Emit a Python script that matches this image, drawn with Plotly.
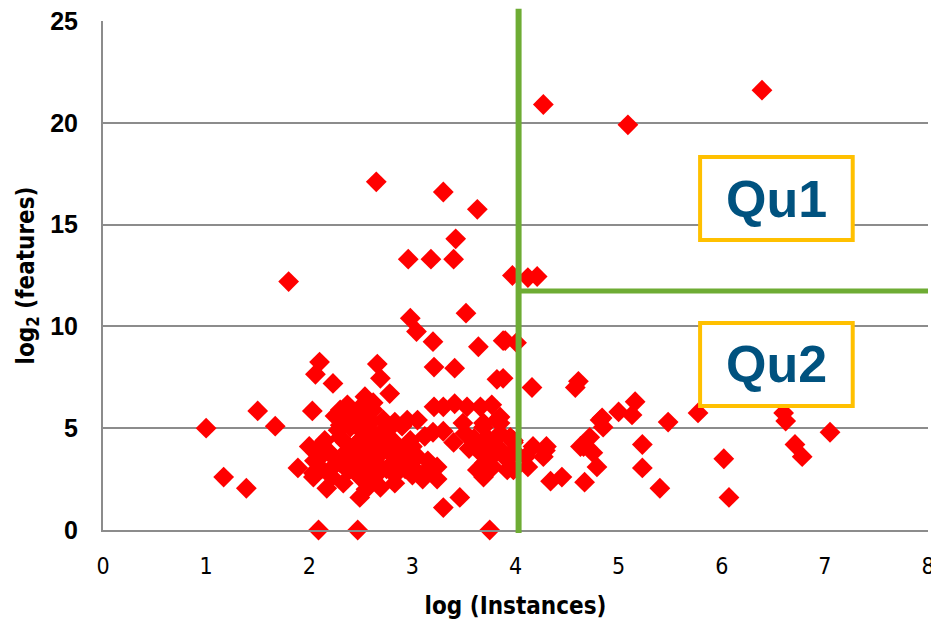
import plotly.graph_objects as go

# log(Instances) and log2(features)
x_vals = [
    1.00, 1.17, 1.39, 1.50, 1.67, 1.80, 2.03, 2.09, 2.10, 2.06, 2.23, 2.47, 3.75,
    2.65, 3.30, 3.63, 3.42, 2.96, 3.18, 3.40, 3.97, 4.12, 4.21, 2.98, 3.04, 3.52,
    3.20, 3.64, 3.90, 4.01, 4.27, 5.09, 6.39,
    2.66, 2.69, 2.78, 2.54, 2.37, 3.21, 3.41, 3.82, 4.16, 3.21, 3.30, 3.41, 3.53,
    3.66, 3.77, 2.62, 2.49, 2.30, 4.58, 4.61,
    2.40, 2.49, 2.62, 2.56, 2.72, 2.83, 2.95, 3.05, 2.30, 2.40, 2.30, 2.52, 2.62,
    2.49, 2.69, 2.78, 2.81, 2.98, 3.00, 2.00, 2.10, 2.43, 2.56, 2.37, 2.72, 2.95,
    2.59, 2.37, 2.91, 2.85, 1.89, 2.04, 2.23, 2.46, 2.69, 3.00, 3.14, 3.24, 2.04,
    2.49, 2.59, 2.62, 3.00, 3.24, 2.17, 2.83, 2.69, 2.49, 3.30, 3.46,
    2.05, 2.12, 2.15, 2.20, 2.22, 2.28, 2.30, 2.33, 2.35, 2.38, 2.42, 2.45, 2.50,
    2.52, 2.55, 2.58, 2.60, 2.65, 2.67, 2.70, 2.75, 2.78, 2.80, 2.83, 2.88, 2.90,
    2.93, 3.05, 3.10, 3.12, 3.15, 3.20, 2.13, 2.25, 2.65, 2.45,
    3.30, 3.40, 3.49, 3.51, 3.69, 3.69, 3.82, 3.85, 3.72, 3.85, 3.82, 3.69, 3.98,
    3.66, 3.98, 3.63, 3.69, 3.78, 3.92, 3.92, 3.98, 3.98, 3.55, 3.60, 3.75, 3.70,
    3.80, 3.87, 3.88, 3.88, 3.85, 3.95,
    4.12, 4.17, 4.30, 4.27, 4.34, 4.45, 4.67, 4.66, 4.72, 4.75, 4.79, 4.82, 4.85,
    5.00, 5.16, 5.13, 5.23, 5.23, 5.40, 5.48, 5.77, 6.60, 6.62, 6.71, 6.78, 7.05,
    6.02, 6.07, 4.10, 4.84, 4.29, 4.63,
    2.25, 2.35, 2.45, 2.55,
]
y_vals = [
    5.00, 2.60, 2.05, 5.85, 5.10, 12.20, 5.85, 0.00, 8.25, 7.65, 7.20, 0.00, 0.00,
    17.10, 16.60, 15.75, 14.30, 13.30, 13.30, 13.30, 12.50, 12.40, 12.45, 10.40, 9.75, 10.65,
    9.25, 9.00, 9.30, 9.20, 20.90, 19.90, 21.60,
    8.15, 7.45, 6.70, 6.55, 6.15, 8.00, 7.95, 7.40, 7.00, 6.05, 6.05, 6.20, 6.05,
    6.05, 6.15, 6.25, 5.90, 5.90, 7.00, 7.30,
    5.55, 6.00, 5.90, 5.55, 5.40, 5.30, 5.40, 5.40, 5.15, 5.05, 4.55, 4.55, 4.75,
    4.40, 4.25, 4.10, 4.40, 4.40, 4.10, 4.10, 4.10, 4.10, 3.90, 3.90, 3.90, 3.80,
    3.50, 3.45, 3.45, 3.30, 3.05, 2.80, 3.10, 3.10, 3.10, 3.10, 2.95, 3.10, 2.60,
    2.60, 2.45, 2.45, 2.70, 2.50, 2.05, 2.30, 2.10, 1.60, 1.10, 1.60,
    3.40, 3.00, 4.40, 3.80, 2.60, 4.90, 3.30, 2.30, 4.30, 2.90, 5.20, 3.50, 4.90,
    3.00, 2.00, 5.20, 4.30, 3.60, 2.80, 4.80, 3.00, 5.00, 3.70, 2.70, 4.00, 5.10,
    3.00, 3.60, 2.50, 4.60, 3.40, 4.80, 3.70, 3.50, 3.30, 3.70,
    4.85, 4.30, 5.25, 4.75, 5.25, 5.05, 5.40, 5.55, 4.55, 4.75, 4.10, 4.10, 4.30,
    3.80, 3.90, 2.95, 2.60, 3.10, 2.95, 3.45, 2.95, 4.40, 4.00, 4.50, 3.50, 3.30,
    4.40, 3.80, 9.30, 7.45, 5.25, 4.55,
    3.10, 4.10, 4.10, 3.60, 2.40, 2.60, 2.35, 4.10, 4.55, 3.80, 3.10, 5.40, 5.05,
    5.80, 6.30, 5.65, 4.20, 3.05, 2.05, 5.30, 5.75, 5.75, 5.35, 4.20, 3.60, 4.80,
    3.50, 1.60, 3.60, 5.50, 3.90, 4.10,
    5.60, 5.75, 5.60, 5.90,
]

x_ticks = [0, 1, 2, 3, 4, 5, 6, 7, 8]
y_ticks = [0, 5, 10, 15, 20, 25]

x_split = 4.03   # vertical divider (log instances)
y_split = 11.74  # horizontal divider (log2 features)
quadrant_labels = ["Qu1", "Qu2"]
quadrant_boxes = [(5.79, 7.27, 14.24, 18.32), (5.79, 7.27, 6.09, 10.17)]

GREEN = "#6EAC34"
GRID = "#8C8C8C"
NARROW = "Liberation Sans Narrow, DejaVu Sans Condensed, sans-serif"

fig = go.Figure()
fig.add_trace(go.Scatter(
    x=x_vals, y=y_vals, mode="markers",
    marker=dict(symbol="diamond", size=16, color="#FF0000", line=dict(width=0)),
    cliponaxis=False, showlegend=False, hoverinfo="x+y",
))

shapes = [
    dict(type="line", xref="x", yref="paper", x0=x_split, x1=x_split,
         y0=-0.006, y1=1.024, line=dict(color=GREEN, width=6), layer="above"),
    dict(type="line", xref="x", yref="y", x0=x_split, x1=8.05,
         y0=y_split, y1=y_split, line=dict(color=GREEN, width=5), layer="above"),
]
annotations = []
for label, (bx0, bx1, by0, by1) in zip(quadrant_labels, quadrant_boxes):
    shapes.append(dict(type="rect", xref="x", yref="y", x0=bx0, x1=bx1, y0=by0, y1=by1,
                       fillcolor="white", line=dict(color="#FFC000", width=4), layer="above"))
    annotations.append(dict(x=(bx0 + bx1) / 2, y=(by0 + by1) / 2, xref="x", yref="y",
                            text=label, showarrow=False,
                            font=dict(family="Liberation Sans, Arial, sans-serif", size=52,
                                      color="#00527F", weight="bold")))

fig.update_layout(
    width=931, height=620,
    margin=dict(l=103, r=3, t=21, b=90, autoexpand=False),
    paper_bgcolor="white", plot_bgcolor="white",
    shapes=shapes, annotations=annotations,
    xaxis=dict(
        range=[0, 8], tickvals=x_ticks, ticktext=[str(v) for v in x_ticks],
        showgrid=False, zeroline=False, showline=True, linecolor=GRID, linewidth=2,
        ticks="", ticklabelstandoff=14, automargin=False, ticklabeloverflow="allow",
        tickfont=dict(family=NARROW, size=23, color="black"),
        title=dict(text="log (Instances)", standoff=20,
                   font=dict(family=NARROW, size=24, color="black", weight="bold")),
    ),
    yaxis=dict(
        range=[0, 25], tickvals=y_ticks, ticktext=[str(v) for v in y_ticks],
        showgrid=True, gridcolor=GRID, gridwidth=1.5,
        zeroline=False, showline=True, linecolor=GRID, linewidth=2,
        ticks="", ticklabelstandoff=18, automargin=False, ticklabeloverflow="allow",
        tickfont=dict(family="Liberation Sans, Arial, sans-serif", size=25,
                      color="black", weight="bold"),
        title=dict(text="log<sub>2</sub> (features)", standoff=9,
                   font=dict(family=NARROW, size=24, color="black", weight="bold")),
    ),
)

# remove the page's default 8px body margin so the figure fills the window exactly
fig.write_html("out.html", config={"displayModeBar": False},
               post_script="document.body.style.margin='0px';")
